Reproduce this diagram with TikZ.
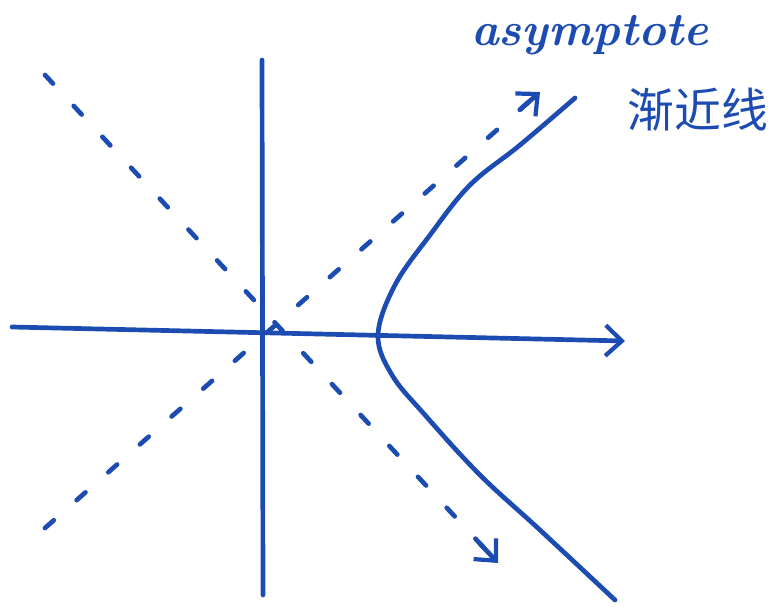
\documentclass[tikz,border=0pt]{standalone}
\usepackage{fontspec}
\newfontfamily\cjkfont{Noto Sans CJK SC}
\usetikzlibrary{arrows.meta,positioning,calc}
\definecolor{ink}{RGB}{28,76,178}
\tikzset{pen/.style={draw=ink, line width=4pt, line cap=round, line join=round},
  asym/.style={pen, dash pattern=on 10pt off 26pt},
  tip/.style={pen, -{Straight Barb[length=14pt,width=26pt,line width=3.6pt]}},
  label/.style={text=ink, inner sep=0pt}}
\begin{document}
\begin{tikzpicture}[x=0.03cm, y=-0.03cm]
\useasboundingbox (0,0) rectangle (779,606);
\coordinate (O) at (262,330);
\coordinate (xl) at (12,327);
\coordinate (xr) at (625,341);
\coordinate (yt) at (262,60);
\coordinate (yb) at (263,595);
\coordinate (a1s) at (45,528);
\coordinate (a1e) at (540,92);
\coordinate (a2s) at (45,75);
\coordinate (a2e) at (498,563);
% axes
\draw[tip] (xl) -- (xr);
\draw[pen] (yt) -- (yb);
% asymptotes
\draw[asym] (a1s) -- (a1e);
\draw[tip] ($(a1e)!0.04!(a1s)$) -- (a1e);
\draw[asym] (a2s) -- (a2e);
\draw[tip] ($(a2e)!0.04!(a2s)$) -- (a2e);
% hyperbola branch
\draw[pen] plot[smooth, tension=0.6] coordinates {(575,98) (520,145) (470,185) (430,235) (395,285) (378,335) (392,375) (425,415) (480,475) (540,530) (615,600)};
% labels
\node[label, font=\fontsize{40}{44}\selectfont\bfseries\itshape] (en) at (590,35) {asymptote};
\node[label, font=\fontsize{40}{44}\selectfont\cjkfont] (zh) at (698,110) {渐近线};
\end{tikzpicture}
\end{document}
